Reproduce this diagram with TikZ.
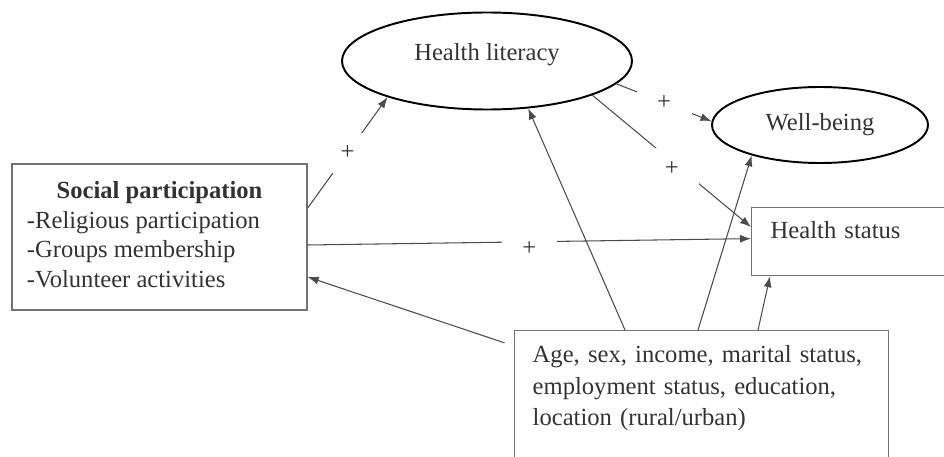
\documentclass[tikz,border=0pt]{standalone}
\usepackage{fontspec}
\setmainfont{Liberation Serif}
\usetikzlibrary{arrows.meta, positioning, shapes.geometric, calc}

\begin{document}
\begin{tikzpicture}[
    every node/.style={font=\fontsize{14}{17}\selectfont, text=black!80},
    latent/.style={draw=black, ellipse, line width=1.1pt, inner sep=0pt},
    obs/.style={draw=black!55, line width=0.8pt},
    arr/.style={-{Latex[length=2.2mm, width=1.6mm]}, line width=0.6pt, black!70},
    sign/.style={fill=white, minimum width=1.1cm, minimum height=0.8cm, inner sep=0pt},
]
\useasboundingbox (0,0) rectangle (18.88,9.12);

% ── Latent variables ──
\node[latent, minimum width=5.8cm, minimum height=1.94cm, text depth=10pt] (hl) at (9.74, 7.90) {Health literacy};
\node[latent, minimum width=4.32cm, minimum height=1.52cm] (wb) at (16.40, 6.62) {Well-being};

% ── Observed variables ──
\node[obs, minimum width=5.9cm, minimum height=2.92cm, inner sep=0pt] (sp) at (3.19, 4.38) {%
  \fontsize{14}{16.8}\selectfont
  \begin{tabular}{@{}p{5.3cm}@{}}
    \multicolumn{1}{@{}c@{}}{\textbf{Social participation}}\\
    -Religious participation\\
    -Groups membership\\
    -Volunteer activities
  \end{tabular}};
\node[obs, anchor=north west, text width=3.6cm, align=left, inner xsep=0.38cm, inner ysep=7.6pt,
      text height=10pt, text depth=13.4pt] (hs) at (15.02, 4.98) {Health status};
\node[obs, anchor=north west, text width=6.76cm, align=left, inner xsep=0.36cm, inner ysep=8.5pt,
      text depth=53pt, font=\fontsize{14}{18}\selectfont] (cov) at (10.28, 2.52)
      {Age, sex, income, marital status,\\ employment status, education,\\ location (rural/urban)};

% ── Paths with signs ──
\draw[arr] ($(sp.east)+(0,0.58)$) -- node[sign] {+} (hl.200);
\draw[arr] (hl.-10) -- node[sign] {+} (wb.178);
\draw[arr] (hl.-18) -- node[sign, yshift=-4pt] {+} ($(hs.north west)+(0,-0.4)$);
\draw[arr] ($(sp.east)+(0,-0.16)$) -- node[sign, yshift=-4pt] {+} ($(hs.west)+(0,0.06)$);

% ── Covariates ──
\draw[arr] ($(cov.north west)+(2.22,0)$) -- (hl.-49);
\draw[arr] ($(cov.north west)+(3.68,0)$) -- (wb.204);
\draw[arr] ($(cov.north west)+(4.88,0)$) -- ($(hs.south west)+(0.38,0)$);
\draw[arr, shorten <=0.2cm] ($(cov.north west)+(0,-0.32)$) -- ($(sp.east)+(0,-0.8)$);

\end{tikzpicture}
\end{document}
